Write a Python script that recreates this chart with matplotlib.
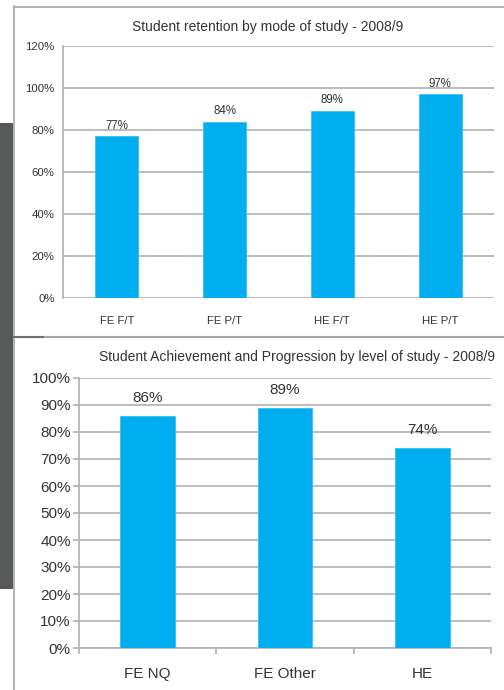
import matplotlib
matplotlib.use("Agg")
import matplotlib.pyplot as plt
from matplotlib.lines import Line2D
from matplotlib.patches import Rectangle
from matplotlib.ticker import PercentFormatter

plt.rcParams['font.family'] = ['Liberation Sans', 'DejaVu Sans']

# Retention by mode of study
retention_modes = ["FE F/T", "FE P/T", "HE F/T", "HE P/T"]
retention_pct = [77, 84, 89, 97]
retention_ticks = [0, 20, 40, 60, 80, 100, 120]

# Achievement and progression by level of study
level_names = ["FE NQ", "FE Other", "HE"]
achievement_pct = [86, 89, 74]
achievement_ticks = [0, 10, 20, 30, 40, 50, 60, 70, 80, 90, 100]

BAR = "#00aeef"
GRID = "#b0b0b0"
TEXT = "#333333"

fig = plt.figure(figsize=(5.04, 6.9), dpi=100)
W, H = 504, 690

def fx(px):
    return px / W

def fy(py):
    return 1 - py / H

# Panel frame and side tab
fig.add_artist(Rectangle((0, fy(589)), fx(13), fy(123) - fy(589),
                         transform=fig.transFigure, color="#58595b", lw=0))
fig.add_artist(Line2D([fx(13.5), fx(13.5)], [fy(6), 0], transform=fig.transFigure,
                      color="#a8a8a8", lw=1.2))
fig.add_artist(Line2D([fx(13.5), 1], [fy(6.5), fy(6.5)], transform=fig.transFigure,
                      color="#a8a8a8", lw=1.2))
fig.add_artist(Line2D([fx(13.5), 1], [fy(337.5), fy(337.5)], transform=fig.transFigure,
                      color="#a8a8a8", lw=1.5))
fig.add_artist(Line2D([fx(13.5), fx(43)], [fy(337.5), fy(337.5)], transform=fig.transFigure,
                      color="#707070", lw=1.5))

# ---- Top chart ----
ax1 = fig.add_axes([fx(63), fy(298), fx(494) - fx(63), fy(46) - fy(298)])
x1 = range(len(retention_modes))
ax1.bar(x1, retention_pct, width=0.4, color=BAR, edgecolor="#33c0f2", linewidth=0.6, zorder=3)
for xi, v in zip(x1, retention_pct):
    ax1.text(xi, v + 2.2, f"{v}%", ha="center", va="bottom", fontsize=8.3, color=TEXT)
ax1.set_xlim(-0.5, len(retention_modes) - 0.5)
ax1.set_ylim(0, 120)
ax1.set_yticks(retention_ticks)
ax1.yaxis.set_major_formatter(PercentFormatter(decimals=0))
ax1.set_xticks(list(x1))
ax1.set_xticklabels(retention_modes)
ax1.tick_params(axis="both", length=0, labelsize=8.2, colors=TEXT, pad=6)
ax1.tick_params(axis="x", pad=13)
ax1.grid(axis="y", color=GRID, lw=1.2, zorder=0)
for s in ["top", "right", "bottom"]:
    ax1.spines[s].set_visible(False)
ax1.spines["left"].set_color(GRID)
ax1.spines["left"].set_linewidth(1.2)
ax1.set_title("Student retention by mode of study - 2008/9", fontsize=10,
              color=TEXT, pad=11, x=0.475)

# ---- Bottom chart ----
ax2 = fig.add_axes([fx(79), fy(648), fx(491) - fx(79), fy(378) - fy(648)])
x2 = range(len(level_names))
ax2.bar(x2, achievement_pct, width=0.4, color=BAR, edgecolor="#33c0f2", linewidth=0.6, zorder=3)
for xi, v in zip(x2, achievement_pct):
    ax2.text(xi, v + 4, f"{v}%", ha="center", va="bottom", fontsize=11, color=TEXT)
ax2.set_xlim(-0.5, len(level_names) - 0.5)
ax2.set_ylim(0, 100)
ax2.set_yticks(achievement_ticks)
ax2.yaxis.set_major_formatter(PercentFormatter(decimals=0))
ax2.set_xticks([i - 0.5 for i in range(len(level_names) + 1)], minor=False)
ax2.set_xticklabels([""] * (len(level_names) + 1))
ax2.set_xticks(list(x2), minor=True)
ax2.set_xticklabels(level_names, minor=True)
ax2.tick_params(axis="x", which="major", length=4, direction="out", color=GRID, width=1.2)
ax2.tick_params(axis="x", which="minor", length=0, labelsize=11, colors=TEXT, pad=14)
ax2.tick_params(axis="y", length=4, color=GRID, width=1.2, labelsize=11, labelcolor=TEXT, pad=2)
ax2.grid(axis="y", color=GRID, lw=1.2, zorder=0)
for s in ["top", "right"]:
    ax2.spines[s].set_visible(False)
for s in ["left", "bottom"]:
    ax2.spines[s].set_color(GRID)
    ax2.spines[s].set_linewidth(1.2)
ax2.set_title("Student Achievement and Progression by level of study - 2008/9",
              fontsize=10, color=TEXT, pad=12, x=0.53)

fig.savefig("out.png", dpi=100)
